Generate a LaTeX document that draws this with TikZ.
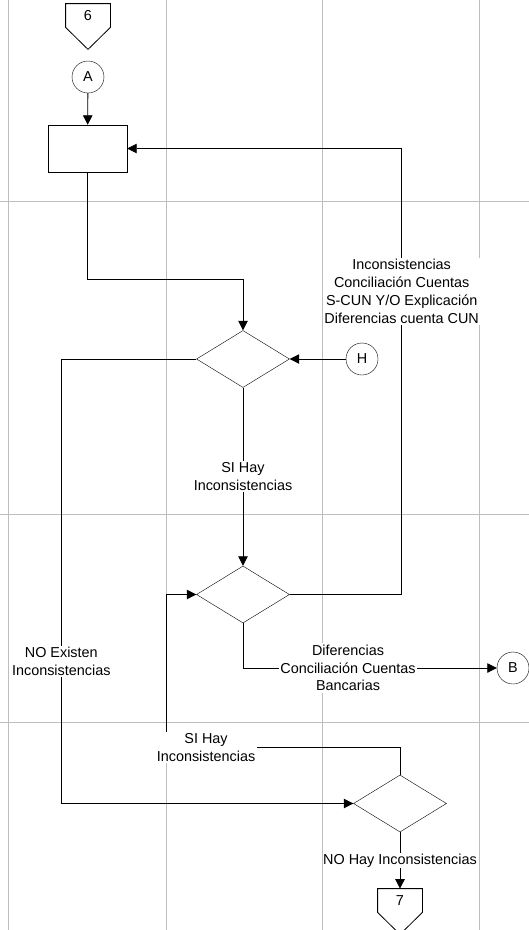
\documentclass[tikz,border=0pt]{standalone}
\usepackage{fontspec}
\setmainfont{Liberation Sans}
\usetikzlibrary{shapes.geometric, arrows.meta, positioning, calc}
\definecolor{GridGray}{RGB}{190, 190, 190}

\begin{document}
\begin{tikzpicture}[
    x=1pt, y=-1pt,
    font=\fontsize{14.4}{17.8}\selectfont,
    grid/.style={draw=GridGray, line width=0.9pt},
    task/.style={rectangle, draw, minimum width=79pt, minimum height=47pt, inner sep=0pt},
    decision/.style={diamond, draw, minimum width=93pt, minimum height=57pt, inner sep=0pt},
    link/.style={circle, draw, minimum size=32pt, inner sep=0pt},
    offpage/.style={inner sep=0pt, minimum width=44pt, minimum height=23pt,
        append after command={(\tikzlastnode.north west) -- (\tikzlastnode.north east)
        -- (\tikzlastnode.south east) -- ([yshift=-22pt]\tikzlastnode.south)
        -- (\tikzlastnode.south west) -- cycle}},
    lbl/.style={fill=white, align=center, inner sep=1.5pt},
    arrow/.style={draw, line width=0.8pt, -{Triangle[length=9.5pt, width=9.5pt]}}
]
    \useasboundingbox (0,0) rectangle (529,930);
    \clip (0,0) rectangle (529,930);

    % Swimlane grid
    \foreach \gx in {8, 166, 322.5, 479}
        \draw[grid] (\gx,0) -- (\gx,930);
    \foreach \gy in {201, 514, 722}
        \draw[grid] (0,\gy) -- (529,\gy);

    % Nodes placement
    \draw[line width=0.8pt] (88,15.5) node[offpage] (page6) {6};
    \node (linkA) [link] at (88,77) {A};
    \node (task1) [task] at (87.5,148.5) {};
    \node (dec1) [decision] at (243,359) {};
    \node (linkH) [link] at (362,359) {H};
    \node (dec2) [decision] at (243,594.5) {};
    \node (linkB) [link] at (513,668) {B};
    \node (dec3) [decision] at (400,803.5) {};
    \draw[line width=0.8pt] (400,900.5) node[offpage] (page7) {7};

    % Connectors
    \draw [arrow] (linkA) -- (task1);
    \draw [arrow] (task1.south) -- ++(0,107) -| (dec1.north);
    \draw [arrow] (linkH) -- (dec1.east);
    \draw [arrow] (dec1.west) -- ++(-135,0) |- (dec3.west)
        node[pos=0.34, lbl] {NO Existen\\Inconsistencias};
    \draw [arrow] (dec1) -- node[lbl] {SI Hay\\Inconsistencias} (dec2);
    \draw [arrow] (dec2.east) -- ++(112,0) |- (task1.east)
        node[pos=0.34, lbl] {Inconsistencias\\Conciliación Cuentas\\S-CUN Y/O Explicación\\Diferencias cuenta CUN};
    \draw [arrow] (dec2.south) |- (linkB.west)
        node[pos=0.707, lbl] {Diferencias\\Conciliación Cuentas\\Bancarias};
    \draw [arrow] (dec3.north) -- ++(0,-27) -| ([xshift=-30pt]dec2.west)
        node[pos=0.415, lbl] {SI Hay\\Inconsistencias} -- (dec2.west);
    \draw [arrow] (dec3.south) -- node[lbl, inner sep=0.5pt] {NO Hay Inconsistencias} (page7.north);

\end{tikzpicture}
\end{document}
